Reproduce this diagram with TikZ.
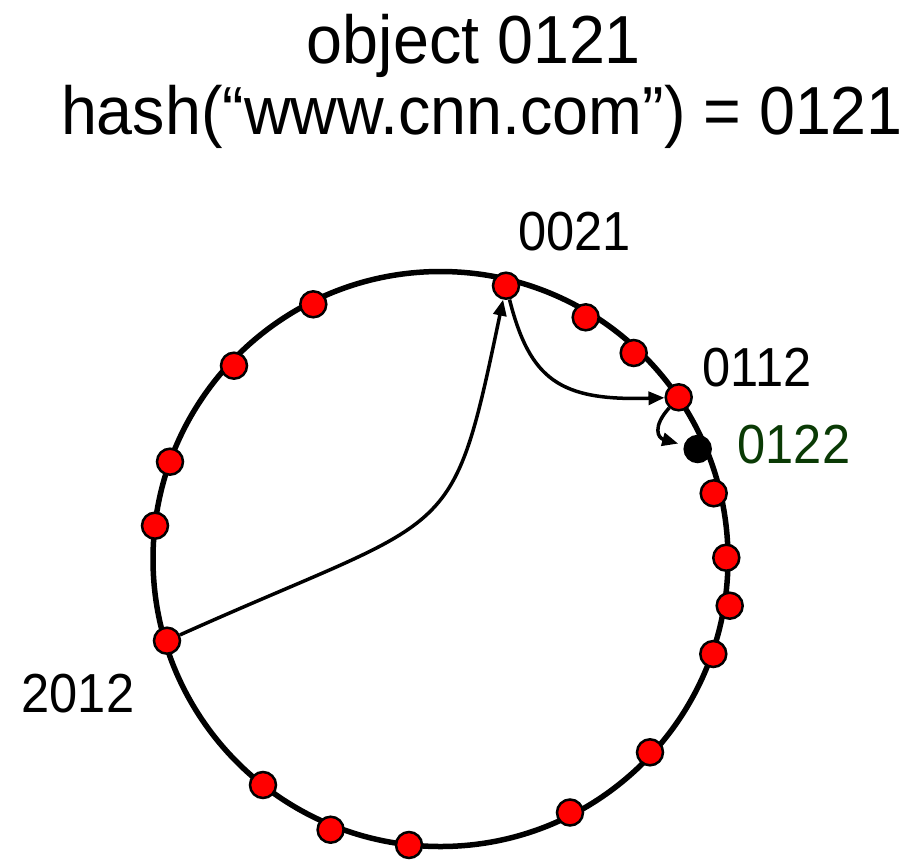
\documentclass[tikz,border=0pt]{standalone}
\usepackage{fontspec}
\setmainfont{Liberation Sans}
\newfontfamily\narrowfont[FakeStretch=0.92]{Liberation Sans}
\newfontfamily\titlefont[FakeStretch=0.95]{Liberation Sans}
\usetikzlibrary{arrows.meta}
\definecolor{lblgreen}{HTML}{0A3A05}
\begin{document}
\begin{tikzpicture}[x=1pt,y=-1pt,
  dot/.style={circle,draw=black,line width=2.5pt,fill=red,minimum size=26pt,inner sep=0pt},
  bdot/.style={dot,fill=black},
  arr/.style={line width=3.5pt,-{Triangle[length=16pt,width=13pt]}},
  ring/.style={line width=5.5pt},
  lbl/.style={font=\narrowfont\fontsize{55}{64}\selectfont,anchor=base,inner sep=0pt},
  ttl/.style={font=\titlefont\fontsize{68}{80}\selectfont,anchor=base,inner sep=0pt}]
\useasboundingbox (0,0) rectangle (907,860);
\coordinate (c) at (440.5,559);
\draw[ring] (c) circle[radius=287.5pt];
% title
\node[ttl] (t1) at (474,63) {object 0121};
\node[ttl] (t2) at (482,134) {hash(“www.cnn.com”) = 0121};
% dots
\node[dot] (d1) at (506,285.7) {};
\node[dot] (d2) at (585.7,317.3) {};
\node[dot] (d3) at (633.7,353) {};
\node[dot] (d4) at (678.7,397.3) {};
\node[bdot] (b) at (697.7,449) {};
\node[dot] (d5) at (713.7,493.3) {};
\node[dot] (d6) at (726.3,557.7) {};
\node[dot] (d7) at (729.7,605.7) {};
\node[dot] (d8) at (713.3,654) {};
\node[dot] (d9) at (650,752.3) {};
\node[dot] (d10) at (570,812.5) {};
\node[dot] (d11) at (409,845) {};
\node[dot] (d12) at (330.6,829.7) {};
\node[dot] (d13) at (263,785) {};
\node[dot] (d14) at (167,640.7) {};
\node[dot] (d15) at (155,525.7) {};
\node[dot] (d16) at (170,461.7) {};
\node[dot] (d17) at (234,365.7) {};
\node[dot] (d18) at (313.3,304.3) {};
% labels
\node[lbl] (l1) at (574.5,250) {0021};
\node[lbl] (l2) at (757,386) {0112};
\node[lbl,text=lblgreen] (l3) at (794,463) {0122};
\node[lbl] (l4) at (78,712) {2012};
% arrows
\draw[arr] (d14) .. controls (456,511) and (451,549) .. (d1);
\draw[arr] (d1) .. controls (530,380) and (560,401) .. (d4);
\draw[arr,shorten >=6pt] (d4) .. controls (652,427) and (658,438) .. (b);
\end{tikzpicture}
\end{document}
